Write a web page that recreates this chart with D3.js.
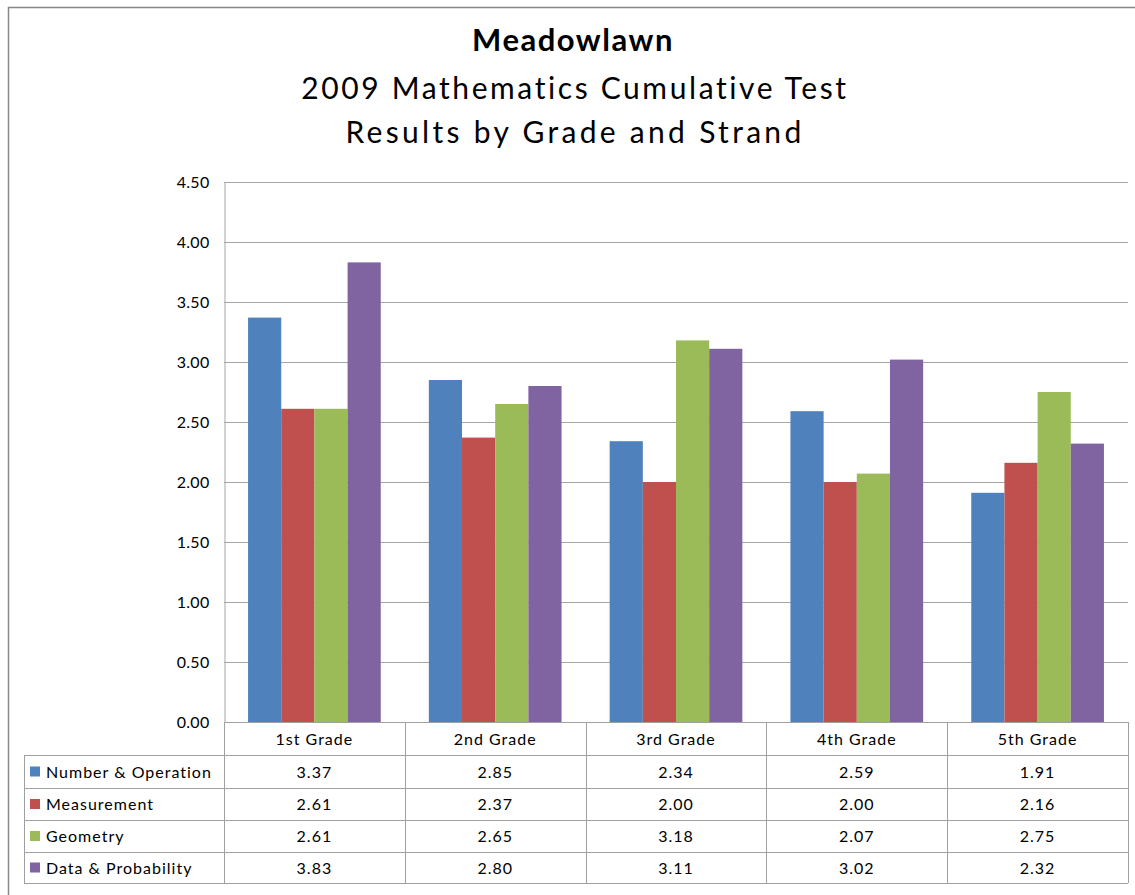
<!DOCTYPE html>
<html>
<head>
<meta charset="utf-8">
<script src="https://cdn.jsdelivr.net/npm/d3@7"></script>
<style>
  body { margin: 0; background: #fff; }
  text { font-family: Lato, "Open Sans", sans-serif; fill: #000; }
</style>
</head>
<body>
<div id="app"></div>
<script>
// data
const grades = ["1st Grade", "2nd Grade", "3rd Grade", "4th Grade", "5th Grade"];
const strands = ["Number & Operation", "Measurement", "Geometry", "Data & Probability"];
const numberOperation = [3.37, 2.85, 2.34, 2.59, 1.91];
const measurement = [2.61, 2.37, 2.00, 2.00, 2.16];
const geometry = [2.61, 2.65, 3.18, 2.07, 2.75];
const dataProbability = [3.83, 2.80, 3.11, 3.02, 2.32];
const yTicks = [0, 0.5, 1, 1.5, 2, 2.5, 3, 3.5, 4, 4.5];
const colors = ["#4F81BD", "#C0504D", "#9BBB59", "#8064A2"];

const seriesValues = [numberOperation, measurement, geometry, dataProbability];

const w = 1135;
const h = 895;
const plot = { left: 224, right: 1128, top: 182, bottom: 722 };
const rowEdges = [722, 755, 788, 820, 852, 883];
const gridColor = "#a6a6a6";
const tableColor = "#a0a0a0";

const svg = d3.select("#app").append("svg").attr("width", w).attr("height", h);

// outer frame
svg.append("rect")
  .attr("x", 8.5).attr("y", 7.5)
  .attr("width", w + 20).attr("height", h + 20)
  .attr("fill", "none").attr("stroke", "#888").attr("stroke-width", 1.5);

// titles
svg.append("text").attr("x", 573).attr("y", 51)
  .attr("text-anchor", "middle").style("font-size", "31px").style("font-weight", "bold")
  .style("letter-spacing", "1.5px")
  .text("Meadowlawn");
svg.append("text").attr("x", 575).attr("y", 99)
  .attr("text-anchor", "middle").style("font-size", "30px").style("letter-spacing", "2.6px")
  .text("2009 Mathematics Cumulative Test");
svg.append("text").attr("x", 575).attr("y", 143)
  .attr("text-anchor", "middle").style("font-size", "30px").style("letter-spacing", "3.3px")
  .text("Results by Grade and Strand");

// scales
const y = d3.scaleLinear().domain([0, 4.5]).range([plot.bottom, plot.top]);
const x0 = d3.scaleBand().domain(grades).range([plot.left, plot.right]);
const x1 = d3.scaleBand().domain(strands).range([0, x0.bandwidth()]).paddingOuter(0.725);

// gridlines
svg.append("g")
  .selectAll("line")
  .data(yTicks)
  .join("line")
  .attr("x1", plot.left).attr("x2", plot.right)
  .attr("y1", (d) => Math.round(y(d)) + 0.5).attr("y2", (d) => Math.round(y(d)) + 0.5)
  .attr("stroke", gridColor);

// y axis
const yAxis = svg.append("g")
  .attr("transform", `translate(${plot.left + 0.5},0)`)
  .call(d3.axisLeft(y).tickValues(yTicks).tickFormat(d3.format(".2f")).tickSize(0).tickPadding(15));
yAxis.select(".domain").attr("stroke", gridColor);
yAxis.selectAll("text").style("font-size", "16px").style("font-family", "Lato, sans-serif")
  .style("letter-spacing", "0.3px").attr("fill", "#000");

// bars
const groups = svg.append("g")
  .selectAll("g")
  .data(seriesValues)
  .join("g")
  .attr("fill", (d, i) => colors[i]);

groups.selectAll("rect")
  .data((vals, si) => vals.map((v, gi) => ({ v, grade: grades[gi], strand: strands[si] })))
  .join("rect")
  .attr("x", (d) => x0(d.grade) + x1(d.strand))
  .attr("y", (d) => y(d.v))
  .attr("width", x1.bandwidth())
  .attr("height", (d) => y(0) - y(d.v));

// data table
const table = svg.append("g");
const tableTop = rowEdges[0];
const tableBottom = rowEdges[rowEdges.length - 1];
const tableLeft = 24;
const rowMid = (i) => (rowEdges[i] + rowEdges[i + 1]) / 2;

// horizontal lines
table.selectAll("line.h")
  .data(rowEdges.slice(1))
  .join("line")
  .attr("x1", tableLeft).attr("x2", plot.right)
  .attr("y1", (d) => d + 0.5).attr("y2", (d) => d + 0.5)
  .attr("stroke", tableColor);
table.append("line")
  .attr("x1", plot.left).attr("x2", plot.right)
  .attr("y1", tableTop + 0.5).attr("y2", tableTop + 0.5)
  .attr("stroke", tableColor);

// vertical lines
const vx = grades.map((g) => x0(g)).concat([plot.right]);
table.selectAll("line.v")
  .data(vx)
  .join("line")
  .attr("x1", (d) => Math.round(d) + 0.5).attr("x2", (d) => Math.round(d) + 0.5)
  .attr("y1", tableTop).attr("y2", tableBottom)
  .attr("stroke", tableColor);
table.append("line")
  .attr("x1", tableLeft + 0.5).attr("x2", tableLeft + 0.5)
  .attr("y1", rowEdges[1]).attr("y2", tableBottom)
  .attr("stroke", tableColor);

// header text
table.selectAll("text.head")
  .data(grades)
  .join("text")
  .attr("x", (d) => x0(d) + x0.bandwidth() / 2)
  .attr("y", rowMid(0) + 6)
  .attr("text-anchor", "middle")
  .style("font-size", "16px").style("letter-spacing", "1px")
  .text((d) => d);

// legend cells
strands.forEach((s, i) => {
  const cy = rowMid(i + 1);
  table.append("rect")
    .attr("x", 30).attr("y", cy - 5)
    .attr("width", 10).attr("height", 10)
    .attr("fill", colors[i]);
  table.append("text")
    .attr("x", 46).attr("y", cy + 6)
    .style("font-size", "16px").style("letter-spacing", "1px")
    .text(s);
  table.selectAll(null)
    .data(seriesValues[i])
    .join("text")
    .attr("x", (d, gi) => x0(grades[gi]) + x0.bandwidth() / 2)
    .attr("y", cy + 6)
    .attr("text-anchor", "middle")
    .style("font-size", "16px").style("letter-spacing", "1px")
    .text((d) => d.toFixed(2));
});
</script>
</body>
</html>
